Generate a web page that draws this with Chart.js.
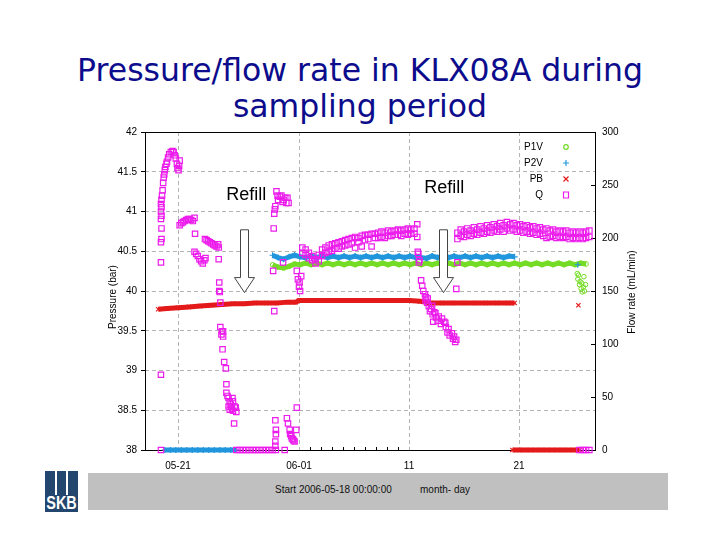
<!DOCTYPE html>
<html>
<head>
<meta charset="utf-8">
<script src="https://cdn.jsdelivr.net/npm/chart.js@4.4.1/dist/chart.umd.min.js"></script>
<style>
body { margin: 0; background: #fff; }
#page { position: relative; width: 720px; height: 540px; overflow: hidden; font-family: "Liberation Sans", Arial, sans-serif; }
#title { position: absolute; left: 0; top: 52px; width: 720px; margin: 0; text-align: center; font-family: "DejaVu Sans", Verdana, sans-serif; font-weight: normal; font-size: 31.5px; line-height: 36px; color: #0c0c8c; }
#chart { position: absolute; left: 0; top: 0; }
#logo { position: absolute; left: 45px; top: 471px; width: 33px; height: 41px; background: #23466e; overflow: hidden; }
#logo .ln { position: absolute; top: 0; width: 2px; height: 24px; background: #fff; }
#logo .txt { position: absolute; left: -10px; bottom: 0; width: 53px; text-align: center; color: #fff; font-family: "Liberation Sans", Arial, sans-serif; font-weight: bold; font-size: 19px; line-height: 18px; transform: scaleX(0.76); }
#bar { position: absolute; left: 88px; top: 473px; width: 580px; height: 37px; background: #c0c0c0; }
.bt { position: absolute; top: 484px; font-size: 10px; color: #111; white-space: nowrap; }
</style>
</head>
<body>
<div id="page">
  <h1 id="title">Pressure/flow rate in KLX08A during<br>sampling period</h1>
  <div id="bar"></div>
  <div class="bt" style="left:275px">Start 2006-05-18 00:00:00</div>
  <div class="bt" style="left:420px">month- day</div>
  <div id="logo"><div class="ln" style="left:10px"></div><div class="ln" style="left:21px"></div><div class="txt">SKB</div></div>
  <canvas id="chart" width="720" height="540"></canvas>
</div>
<script>
// x values are days after the start (2006-05-18 00:00)
var dayTicks = [3, 14, 24, 34];
var dayLabels = ['05-21', '06-01', '11', '21'];
var minorDays = [15, 16, 17, 18, 19, 20, 21, 22, 23];
var pressureTicks = [38, 38.5, 39, 39.5, 40, 40.5, 41, 41.5, 42];
var flowTicks = [0, 50, 100, 150, 200, 250, 300];

// Q, flow rate (mL/min)
var qDay = [
  1.45, 1.45, 1.45, 1.45, 1.5, 1.5, 1.45, 1.5, 1.45, 1.5, 1.45, 1.5,
  1.55, 1.6, 1.65, 1.7, 1.75, 1.8, 1.85, 1.95, 2.0, 2.1, 2.2, 2.35,
  2.5, 2.6, 2.7, 2.8, 2.9, 2.95, 3.05, 3.1, 3.15,
  3.15, 3.3, 3.45, 3.6, 3.75, 3.9, 4.05, 4.2, 4.35, 4.5, 4.55,
  4.5, 4.65, 4.8, 4.95, 5.1, 5.25, 5.4, 5.5,
  5.45, 5.6, 5.75, 5.9, 6.05, 6.2, 6.35, 6.5, 6.65, 6.7,
  6.7, 6.75, 6.75, 6.8, 6.85, 6.85, 6.95, 7.0, 7.1, 7.1, 7.05, 7.2, 7.35, 7.4, 7.4,
  7.5, 7.6, 7.6, 7.7, 7.7, 7.8, 7.85, 7.9, 7.95, 8.0, 8.0, 8.1, 8.15, 8.25, 8.3,
  8.3, 8.6, 8.9, 9.2, 9.5, 9.8, 10.1, 10.4, 10.7, 11.0, 11.3, 11.6, 11.9,
  11.85, 11.85, 11.9, 11.9, 11.85, 11.75, 11.65, 11.7, 11.75, 11.8, 11.85,
  11.95, 12.05, 12.1, 12.25, 12.4, 12.5, 12.6, 12.75, 12.85, 12.95, 13.05, 12.55, 12.7,
  12.9, 13.0, 13.15, 13.2, 13.3, 13.35, 13.45, 13.5, 13.6, 13.75, 13.8,
  13.8, 13.9, 14.0, 14.05, 14.1, 14.2,
  14.3, 14.3, 14.6, 14.6, 14.9, 14.9, 15.2, 15.2, 15.5, 15.5, 15.8, 15.8, 16.1, 16.1, 16.4, 16.4,
  16.7, 16.7, 17.0, 17.0, 17.3, 17.3, 17.6, 17.6, 17.9, 17.9, 18.2, 18.2, 18.5, 18.5, 18.8, 18.8,
  19.1, 19.1, 19.4, 19.4, 19.7, 19.7, 20.0, 20.0, 20.3, 20.3, 20.6, 20.6, 20.9, 20.9, 21.2, 21.2,
  21.5, 21.5, 21.8, 21.8, 22.1, 22.1, 22.4, 22.4, 22.7, 22.7, 23.0, 23.0, 23.3, 23.3, 23.6, 23.6,
  23.9, 23.9, 24.2, 24.2, 24.5, 24.5, 24.75, 24.75,
  24.8, 24.85, 24.9, 24.95, 25.1, 25.2, 25.3, 25.45, 25.5, 25.55, 25.65, 25.7, 25.8, 25.9,
  26.0, 26.1, 26.15, 26.2, 26.3, 26.4, 26.45, 26.6, 26.7, 26.9, 27.0, 27.2, 27.3, 27.35,
  27.5, 27.6, 27.7, 27.9, 28.0, 28.1, 28.2, 28.3, 28.3, 28.4,
  28.4, 28.4, 28.7, 28.7, 29.0, 29.0, 29.3, 29.3, 29.6, 29.6, 29.9, 29.9, 30.2, 30.2, 30.5, 30.5,
  30.8, 30.8, 31.1, 31.1, 31.4, 31.4, 31.7, 31.7, 32.0, 32.0, 32.3, 32.3, 32.6, 32.6, 32.9, 32.9,
  33.2, 33.2, 33.5, 33.5, 33.8, 33.8, 34.1, 34.1, 34.4, 34.4, 34.7, 34.7, 35.0, 35.0, 35.3, 35.3,
  35.6, 35.6, 35.9, 35.9, 36.2, 36.2, 36.5, 36.5, 36.8, 36.8, 37.1, 37.1, 37.4, 37.4, 37.7, 37.7,
  38.0, 38.0, 38.3, 38.3, 38.6, 38.6, 38.9, 38.9, 39.2, 39.2, 39.5, 39.5, 39.8, 39.8, 40.1, 40.1, 40.4, 40.4,
  39.5, 39.8, 40.1, 40.4
];
var qFlow = [
  0, 71, 177, 196, 199, 209, 218, 221, 225, 229, 232, 236,
  240, 245, 252, 257, 260, 264, 267, 270, 272, 276, 279, 281,
  282, 281, 278, 275, 270, 266, 264, 268, 273,
  212, 214, 215, 216, 217, 218, 218, 217, 216, 219, 204,
  187, 185, 183, 180, 178, 176, 179, 181,
  199, 198, 197, 196, 195, 194, 193, 192, 194, 191,
  180, 158, 150, 149, 139, 116, 109, 112, 112, 107, 95, 83, 77, 62, 54,
  51, 49, 41, 45, 38, 43, 41, 39, 49, 46, 37, 25, 41, 40, 36,
  0, 0, 0, 0, 0, 0, 0, 0, 0, 0, 0, 0, 0,
  4, 8, 15, 19, 28, 131, 169, 209, 223, 227, 230,
  244, 240, 236, 239, 240, 234, 236, 238, 233, 238, 233, 177, 0,
  30, 25, 19, 15, 13, 11, 10, 9, 8, 19, 40,
  169, 161, 154, 158, 150, 164,
  191, 186, 189, 184, 186, 181, 183, 179, 180, 176, 184, 178, 189, 183, 191, 186,
  193, 187, 194, 188, 195, 190, 196, 190, 197, 192, 198, 193, 199, 194, 200, 195,
  201, 191, 200, 196, 202, 192, 203, 198, 203, 199, 204, 192, 204, 200, 205, 200,
  206, 201, 205, 200, 207, 202, 206, 202, 207, 203, 208, 203, 207, 202, 208, 204,
  209, 203, 208, 204, 209, 204, 213, 201,
  187, 185, 177, 179, 160, 155, 150, 147, 141, 144, 139, 143, 136, 131,
  133, 136, 128, 121, 130, 129, 125, 122, 126, 119, 124, 121, 120, 116,
  111, 114, 108, 110, 105, 107, 102, 104, 152, 177,
  205, 199, 208, 202, 206, 201, 209, 203, 207, 202, 210, 204, 208, 203, 211, 205,
  209, 204, 212, 206, 210, 205, 213, 207, 211, 206, 214, 208, 212, 206, 215, 209,
  213, 207, 214, 208, 212, 206, 213, 207, 211, 205, 212, 206, 210, 204, 211, 205,
  209, 203, 210, 204, 208, 202, 209, 200, 207, 201, 208, 202, 206, 200, 207, 201,
  206, 200, 207, 201, 205, 199, 206, 200, 205, 199, 206, 200, 205, 199, 206, 200, 207, 201,
  0, 0, 0, 0
];

// P1V, pressure (bar)
var p1Day = [11.6, 12.1, 12.6, 13.1, 13.6, 14.1, 14.6, 15.1, 15.6, 16.1, 16.6, 17.1, 17.6, 18.1, 18.6,
  19.1, 19.6, 20.1, 20.6, 21.1, 21.6, 22.1, 22.6, 23.1, 23.6, 24.1, 24.6, 25.1, 25.6, 26.1,
  26.6, 27.1, 27.6, 28.1, 28.6, 29.1, 29.6, 30.1, 30.6, 31.1, 31.6, 32.1, 32.6, 33.1, 33.6,
  34.1, 34.6, 35.1, 35.6, 36.1, 36.6, 37.1, 37.6, 38.1, 38.6, 39.1, 39.6, 40.1];
var p1Bar = [40.33, 40.3, 40.29, 40.31, 40.34, 40.33, 40.35, 40.33, 40.35, 40.33, 40.35, 40.33, 40.35, 40.33, 40.35,
  40.33, 40.35, 40.33, 40.35, 40.33, 40.35, 40.33, 40.35, 40.33, 40.35, 40.33, 40.35, 40.33, 40.35, 40.33,
  40.35, 40.33, 40.35, 40.33, 40.35, 40.33, 40.35, 40.33, 40.35, 40.33, 40.35, 40.33, 40.35, 40.33, 40.35,
  40.33, 40.35, 40.33, 40.35, 40.33, 40.35, 40.33, 40.35, 40.33, 40.35, 40.33, 40.35, 40.34];
var p1TailDay = [39.3, 39.35, 39.4, 39.5, 39.55, 39.65, 39.7, 39.75, 39.85, 39.9, 39.95, 40.05];
var p1TailBar = [40.22, 40.15, 40.2, 40.08, 40.12, 40.03, 40.1, 39.99, 40.05, 40.18, 40.0, 40.08];

// P2V, pressure (bar); null marks a gap
var p2Day = [1.8, 2.3, 2.8, 3.3, 3.8, 4.3, 4.8, 5.3, 5.8, 6.3, 6.8, 7.3, 7.8, 8.3, 10.0,
  11.6, 12.1, 12.6, 13.1, 13.6, 14.1, 14.6, 15.1, 15.6, 16.1, 16.6, 17.1, 17.6, 18.1, 18.6,
  19.1, 19.6, 20.1, 20.6, 21.1, 21.6, 22.1, 22.6, 23.1, 23.6, 24.1, 24.6, 25.1, 25.6, 26.1,
  26.6, 27.1, 27.6, 28.1, 28.6, 29.1, 29.6, 30.1, 30.6, 31.1, 31.6, 32.1, 32.6, 33.1, 33.6];
var p2Bar = [38, 38, 38, 38, 38, 38, 38, 38, 38, 38, 38, 38, 38, 38, null,
  40.45, 40.42, 40.4, 40.43, 40.45, 40.43, 40.42, 40.44, 40.42, 40.44, 40.42, 40.44, 40.42, 40.44, 40.42,
  40.44, 40.42, 40.44, 40.42, 40.44, 40.42, 40.44, 40.42, 40.44, 40.42, 40.44, 40.42, 40.42, 40.41, 40.44,
  40.42, 40.44, 40.42, 40.44, 40.42, 40.44, 40.42, 40.44, 40.42, 40.44, 40.42, 40.44, 40.42, 40.44, 40.43];
var p2DotDay = [39.35];
var p2DotBar = [40.33];

// PB, pressure (bar); null marks a gap
var pbDay = [1.2, 2, 3, 4, 5, 6, 7, 8, 9, 10, 11, 12, 13, 13.7, 14,
  15, 16, 17, 18, 19, 20, 21, 22, 23, 24, 25, 26, 27, 28, 29, 30, 31, 32, 33, 33.6, 33.5,
  33.4, 34, 34.5, 35, 35.5, 36, 36.5, 37, 37.5, 38, 38.5, 39, 39.5];
var pbBar = [39.77, 39.78, 39.79, 39.8, 39.81, 39.82, 39.83, 39.84, 39.84, 39.85, 39.85, 39.85, 39.86, 39.86, 39.88,
  39.88, 39.88, 39.88, 39.88, 39.88, 39.88, 39.88, 39.88, 39.88, 39.88, 39.87, 39.85, 39.85, 39.85, 39.85, 39.85, 39.85, 39.85, 39.85, 39.85, null,
  38, 38, 38, 38, 38, 38, 38, 38, 38, 38, 38, 38, 38];
var pbDotDay = [39.4];
var pbDotBar = [39.82];

var legendNames = ['P1V', 'P2V', 'PB', 'Q'];
var colP1 = '#74dc24', colP2 = '#2196dc', colPB = '#e41a1a', colQ = '#ec1cec';

function pts(xs, ys) {
  return xs.map(function (x, i) { return { x: x, y: ys[i] }; });
}

function drawMark(ctx, style, col, x, y) {
  ctx.save();
  ctx.strokeStyle = col;
  ctx.lineWidth = 1.2;
  ctx.beginPath();
  if (style == 'circle') {
    ctx.arc(x, y, 2.3, 0, Math.PI * 2);
  } else if (style == 'cross') {
    ctx.moveTo(x - 3, y); ctx.lineTo(x + 3, y);
    ctx.moveTo(x, y - 3); ctx.lineTo(x, y + 3);
  } else if (style == 'crossRot') {
    ctx.moveTo(x - 2.5, y - 2.5); ctx.lineTo(x + 2.5, y + 2.5);
    ctx.moveTo(x + 2.5, y - 2.5); ctx.lineTo(x - 2.5, y + 2.5);
  } else {
    ctx.rect(x - 2.5, y - 3, 5, 6);
  }
  ctx.stroke();
  ctx.restore();
}

var decor = {
  id: 'decor',
  beforeDatasetsDraw: function (chart) {
    var ctx = chart.ctx, a = chart.chartArea;
    var x = chart.scales.x, yF = chart.scales.yF;
    ctx.save();
    ctx.strokeStyle = '#000';
    ctx.lineWidth = 1;
    ctx.strokeRect(Math.round(a.left) + 0.5, Math.round(a.top) + 0.5, Math.round(a.right - a.left) - 1, Math.round(a.bottom - a.top));
    ctx.beginPath();
    flowTicks.forEach(function (v) {
      var py = Math.round(yF.getPixelForValue(v)) + 0.5;
      ctx.moveTo(a.right - 5, py); ctx.lineTo(a.right, py);
    });
    minorDays.forEach(function (d) {
      var px = Math.round(x.getPixelForValue(d)) + 0.5;
      ctx.moveTo(px, a.bottom); ctx.lineTo(px, a.bottom - 3);
    });
    ctx.stroke();
    ctx.restore();
  },
  afterDraw: function (chart) {
    var ctx = chart.ctx, a = chart.chartArea;
    var x = chart.scales.x, yP = chart.scales.yP;
    ctx.save();
    // axis titles
    ctx.fillStyle = '#000';
    ctx.font = '10px "Liberation Sans", Arial, sans-serif';
    ctx.textAlign = 'center';
    ctx.textBaseline = 'middle';
    ctx.save(); ctx.translate(113, 297); ctx.rotate(-Math.PI / 2); ctx.fillText('Pressure (bar)', 0, 0); ctx.restore();
    ctx.save(); ctx.translate(632, 292); ctx.rotate(-Math.PI / 2); ctx.fillText('Flow rate (mL/min)', 0, 0); ctx.restore();

    // legend
    var styles = ['circle', 'cross', 'crossRot', 'rect'];
    var cols = [colP1, colP2, colPB, colQ];
    ctx.textAlign = 'right';
    legendNames.forEach(function (n, i) {
      var ly = a.top + 15 + i * 16;
      ctx.fillStyle = '#000';
      ctx.fillText(n, a.right - 53, ly);
      drawMark(ctx, styles[i], cols[i], a.right - 30, ly);
    });

    // refill notes
    ctx.font = '18px "Liberation Sans", Arial, sans-serif';
    ctx.textAlign = 'center';
    ctx.fillText('Refill', x.getPixelForValue(9.2), yP.getPixelForValue(41.21));
    ctx.fillText('Refill', x.getPixelForValue(27.2), yP.getPixelForValue(41.29));
    [9.0, 27.1].forEach(function (d) {
      var cx = Math.round(x.getPixelForValue(d)) + 0.5;
      var ty = yP.getPixelForValue(40.77), by = yP.getPixelForValue(39.98);
      ctx.beginPath();
      ctx.moveTo(cx - 4, ty); ctx.lineTo(cx + 4, ty); ctx.lineTo(cx + 4, by - 15);
      ctx.lineTo(cx + 10, by - 15); ctx.lineTo(cx, by); ctx.lineTo(cx - 10, by - 15);
      ctx.lineTo(cx - 4, by - 15); ctx.closePath();
      ctx.fillStyle = '#fff';
      ctx.fill();
      ctx.strokeStyle = '#444';
      ctx.lineWidth = 1;
      ctx.stroke();
    });
    ctx.restore();
  }
};

Chart.defaults.font.family = '"Liberation Sans", Arial, sans-serif';
Chart.defaults.font.size = 10;
Chart.defaults.color = '#000';

var ctx = document.getElementById('chart').getContext('2d');
var myChart = new Chart(ctx, {
  type: 'scatter',
  data: {
    datasets: [
      { label: 'Q', data: pts(qDay, qFlow), yAxisID: 'yF', order: 0, clip: false,
        pointStyle: 'rect', pointRadius: 3.8, pointBorderWidth: 1.2,
        borderColor: colQ, backgroundColor: 'rgba(0,0,0,0)' },
      { label: 'P2V', data: pts(p2Day, p2Bar), yAxisID: 'yP', order: 1, clip: false, showLine: true,
        borderColor: colP2, borderWidth: 5, tension: 0, pointStyle: 'cross', pointRadius: 3, pointBorderWidth: 1.2,
        pointBorderColor: colP2, backgroundColor: colP2 },
      { label: 'P2V dots', data: pts(p2DotDay, p2DotBar), yAxisID: 'yP', order: 1, clip: false,
        pointStyle: 'cross', pointRadius: 3, pointBorderWidth: 1.2, borderColor: colP2 },
      { label: 'P1V', data: pts(p1Day, p1Bar), yAxisID: 'yP', order: 2, clip: false, showLine: true,
        borderColor: colP1, borderWidth: 5, tension: 0, pointStyle: 'circle', pointRadius: 2.3, pointBorderWidth: 1,
        pointBorderColor: colP1, pointBackgroundColor: 'rgba(0,0,0,0)' },
      { label: 'P1V dots', data: pts(p1TailDay, p1TailBar), yAxisID: 'yP', order: 2, clip: false,
        pointStyle: 'circle', pointRadius: 2.3, pointBorderWidth: 1, borderColor: colP1, backgroundColor: 'rgba(0,0,0,0)' },
      { label: 'PB', data: pts(pbDay, pbBar), yAxisID: 'yP', order: 3, clip: false, showLine: true,
        borderColor: colPB, borderWidth: 5, tension: 0, pointStyle: 'crossRot', pointRadius: 3, pointBorderWidth: 1.2,
        pointBorderColor: colPB, backgroundColor: colPB },
      { label: 'PB dots', data: pts(pbDotDay, pbDotBar), yAxisID: 'yP', order: 3, clip: false,
        pointStyle: 'crossRot', pointRadius: 3, pointBorderWidth: 1.2, borderColor: colPB }
    ]
  },
  options: {
    responsive: false,
    animation: false,
    layout: { padding: { top: 132, left: 0, right: 0, bottom: 0 } },
    plugins: { legend: { display: false }, tooltip: { enabled: false } },
    scales: {
      x: {
        type: 'linear', position: 'bottom', min: 0, max: 41,
        afterBuildTicks: function (s) { s.ticks = dayTicks.map(function (v) { return { value: v }; }); },
        afterFit: function (s) { s.height = 90; },
        ticks: { autoSkip: false, maxRotation: 0, padding: 10,
          callback: function (v, i) { return dayLabels[i]; } },
        grid: { color: '#b4b4b4', drawTicks: false },
        border: { display: false, dash: [4, 3] }
      },
      yP: {
        position: 'left', min: 38, max: 42,
        afterBuildTicks: function (s) { s.ticks = pressureTicks.map(function (v) { return { value: v }; }); },
        afterFit: function (s) { s.width = 145; },
        ticks: { padding: 4, callback: function (v) { return String(v); } },
        grid: { color: '#b4b4b4', tickColor: '#000', tickLength: 4 },
        border: { display: false, dash: [4, 3] }
      },
      yF: {
        position: 'right', min: 0, max: 300,
        afterBuildTicks: function (s) { s.ticks = flowTicks.map(function (v) { return { value: v }; }); },
        afterFit: function (s) { s.width = 124; },
        ticks: { padding: 6 },
        grid: { drawOnChartArea: false, drawTicks: false },
        border: { display: false }
      }
    }
  },
  plugins: [decor]
});
</script>
</body>
</html>
